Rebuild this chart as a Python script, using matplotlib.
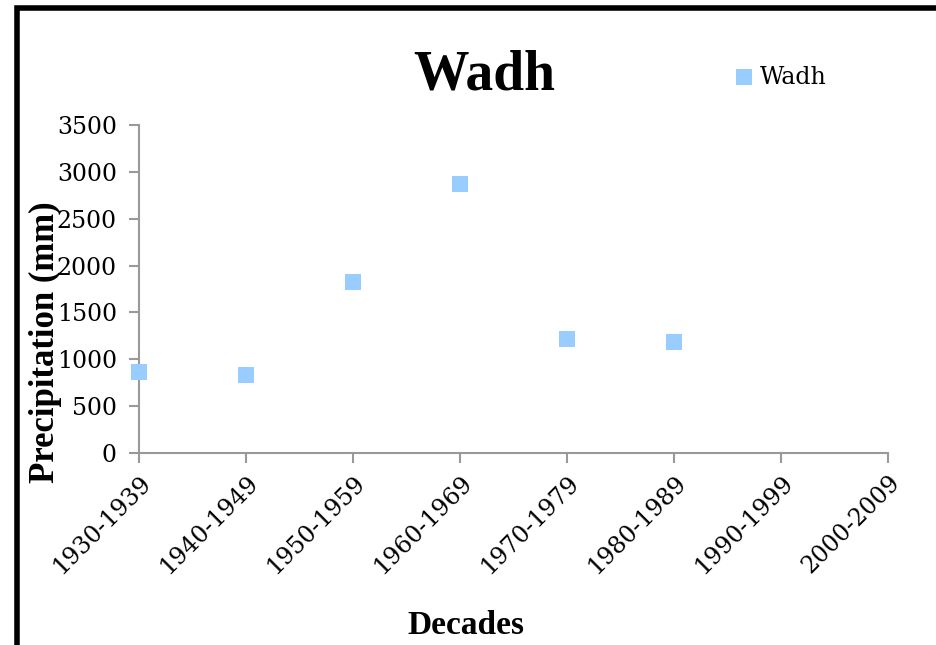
import matplotlib
matplotlib.use("Agg")
import matplotlib.pyplot as plt
from matplotlib.patches import Rectangle

# Data
decades = ['1930-1939', '1940-1949', '1950-1959', '1960-1969',
           '1970-1979', '1980-1989', '1990-1999', '2000-2009']
wadh = [860, 832, 1820, 2870, 1215, 1185]
yticks = [0, 500, 1000, 1500, 2000, 2500, 3000, 3500]

tick_font = 'DejaVu Serif'
bold_font = 'Liberation Serif'

fig = plt.figure(figsize=(9.36, 6.45), dpi=100)
ax = fig.add_axes([139/936, 1-453/645, (888-139)/936, (453-125)/645])

# Scatter of the available decades
ax.scatter(range(len(wadh)), wadh, marker='s', s=120, color='#99CCFF',
           linewidths=0, label='Wadh', zorder=3, clip_on=False)

ax.set_xlim(0, len(decades) - 1)
ax.set_ylim(0, 3500)
ax.set_xticks(range(len(decades)))
ax.set_xticklabels(decades, rotation=45, ha='right', rotation_mode='anchor',
                   fontsize=17, family=tick_font)
ax.set_yticks(yticks)
ax.set_yticklabels([str(v) for v in yticks], fontsize=17, family=tick_font)

for side in ['top', 'right']:
    ax.spines[side].set_visible(False)
for side in ['left', 'bottom']:
    ax.spines[side].set_color('#999999')
    ax.spines[side].set_linewidth(1.5)
ax.tick_params(axis='both', direction='out', length=7, width=1.5,
               color='#999999', pad=6)
ax.tick_params(axis='y', pad=9)

fig.text(484/936, 1-76/645, 'Wadh', ha='center', va='center',
         fontsize=40, fontweight='bold', family=bold_font)
fig.text(466/936, 1-625/645, 'Decades', ha='center', va='center',
         fontsize=24, fontweight='bold', family=bold_font)
fig.text(45/936, 1-342/645, 'Precipitation (mm)', ha='center', va='center',
         rotation=90, fontsize=25, fontweight='bold', family=bold_font)

leg = ax.legend(loc='center left', bbox_to_anchor=(720/936, 1-77/645),
                bbox_transform=fig.transFigure, frameon=False,
                prop={'family': tick_font, 'size': 17}, handletextpad=0.2,
                borderpad=0, handlelength=1.0, markerscale=1.0)

# Black frame of the chart area (cut off at right and bottom)
fig.patches.append(Rectangle((17/936, -0.1), 1.1, 1-8/645+0.1,
                             transform=fig.transFigure, fill=False,
                             edgecolor='black', linewidth=4))

fig.savefig('out.png', dpi=100)
